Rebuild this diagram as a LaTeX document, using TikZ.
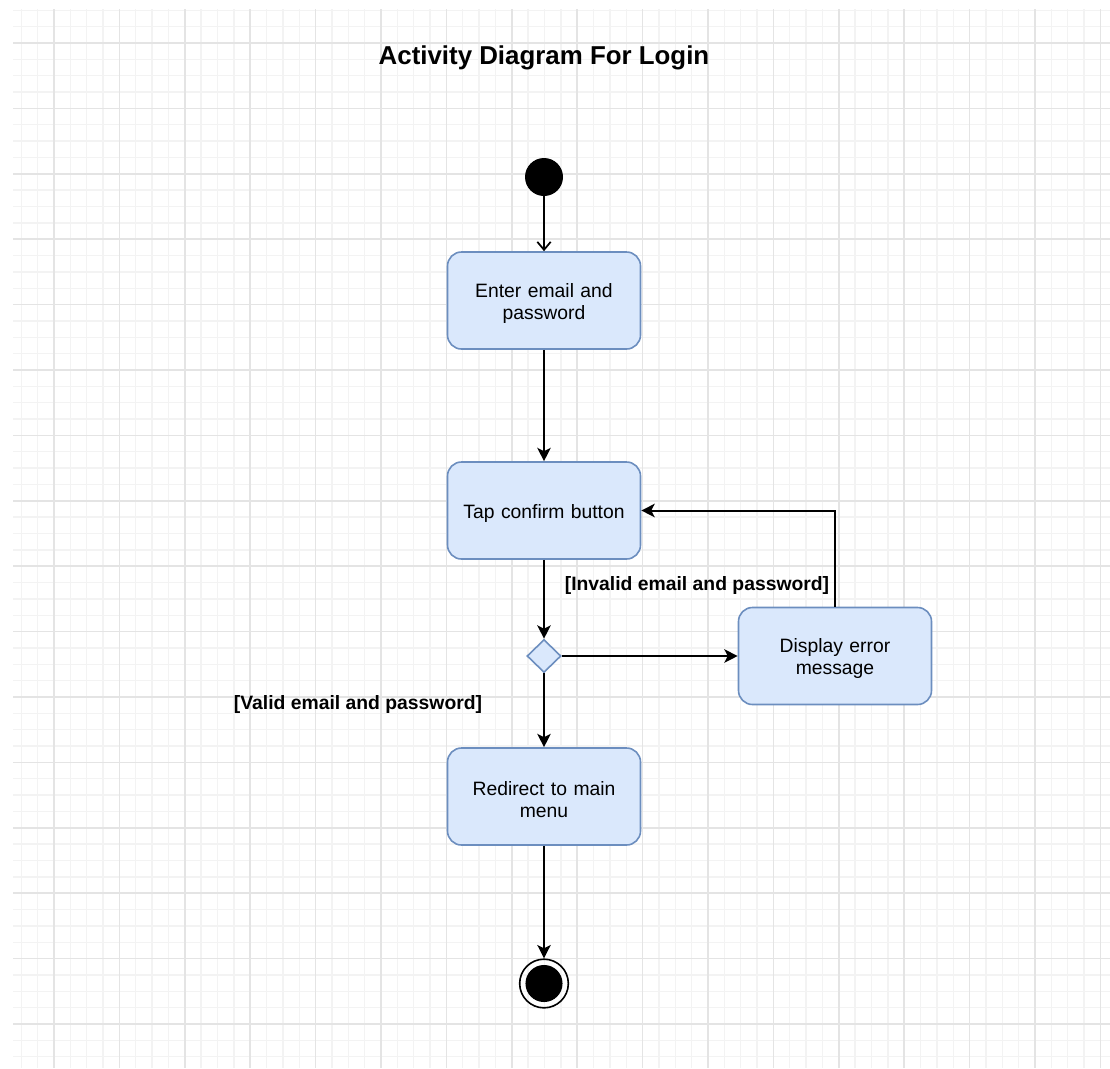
\documentclass[tikz,border=0pt]{standalone}
\usepackage{fontspec}
\setmainfont{Liberation Sans}
\usetikzlibrary{arrows.meta,shapes.geometric}

\definecolor{actfill}{HTML}{DAE8FC}
\definecolor{actline}{HTML}{6C8EBF}
\definecolor{gridminor}{HTML}{F3F3F3}
\definecolor{gridmajor}{HTML}{E4E4E4}

% box label, set a little below the geometric centre
\newcommand{\actlabel}[1]{\raisebox{-2.2pt}[\height][\depth]{\parbox{130pt}{\centering #1}}}

\tikzset{
  actbox/.style={draw=actline, fill=actfill, line width=1.2pt, rounded corners=10.5pt,
    minimum width=144.75pt, minimum height=72.75pt, align=center, text width=130pt,
    font=\fontsize{14.5pt}{16.5pt}\selectfont, inner sep=0pt},
  decision/.style={diamond, draw=actline, fill=actfill, line width=1.2pt,
    minimum width=25.5pt, minimum height=24.75pt, inner sep=0pt},
  startnode/.style={circle, fill=black, minimum size=28.5pt, inner sep=0pt},
  endnode/.style={circle, draw=black, line width=1.2pt, minimum size=36.5pt, inner sep=0pt,
    path picture={\fill[black] (path picture bounding box.center) circle (13.9pt);}},
  flow/.style={draw=black, line width=1.5pt, -{Stealth[length=10pt, width=10pt, inset=2.5pt]}},
  openflow/.style={draw=black, line width=1.5pt, -{Straight Barb[length=6pt, width=10pt, line width=1.3pt]}},
  guard/.style={font=\bfseries\fontsize{14.5pt}{16.5pt}\selectfont, inner sep=0pt},
  minorline/.style={draw=gridminor, line width=1.1pt},
  majorline/.style={draw=gridmajor, line width=1.2pt}
}

\begin{document}
\begin{tikzpicture}[x=0.75pt, y=-0.75pt]
  % page and grid paper
  \fill[white] (0,0) rectangle (1110,1068);
  \useasboundingbox (0,0) rectangle (1110,1068);
  \foreach \i in {0,...,66} \draw[minorline] ({21.3+16.35*\i},9) -- ({21.3+16.35*\i},1068);
  \foreach \j in {0,...,64} \draw[minorline] (13,{10.3+16.35*\j}) -- (1110,{10.3+16.35*\j});
  \foreach \m in {0,...,16} \draw[majorline] ({54+65.4*\m},9) -- ({54+65.4*\m},1068);
  \foreach \m in {0,...,15} \draw[majorline] (13,{43+65.4*\m}) -- (1110,{43+65.4*\m});

  % title
  \node[font=\bfseries\fontsize{19.4pt}{22pt}\selectfont] (title) at (544,58) {Activity Diagram For Login};

  % activity nodes
  \node[startnode] (start) at (544,177) {};
  \node[actbox] (enter) at (544,300.5) {\actlabel{Enter email and\\password}};
  \node[actbox] (tap) at (544,510.5) {\actlabel{Tap confirm button}};
  \node[decision] (check) at (544,656) {};
  \node[actbox] (error) at (835,656) {\actlabel{Display error\\message}};
  \node[actbox] (redirect) at (544,796.5) {\actlabel{Redirect to main\\menu}};
  \node[endnode] (finish) at (544,983.5) {};

  % guard labels
  \node[guard] (invalid) at (697,585) {[Invalid email and password]};
  \node[guard] (valid) at (358,704) {[Valid email and password]};

  % control flow
  \draw[openflow] (start) -- (enter);
  \draw[flow] (enter) -- (tap);
  \draw[flow] (tap) -- (check.north);
  \draw[flow] (check.east) -- (error.west);
  \draw[flow] (error.north) |- (tap.east);
  \draw[flow] (check.south) -- (redirect.north);
  \draw[flow] (redirect) -- (finish.north);
\end{tikzpicture}
\end{document}
